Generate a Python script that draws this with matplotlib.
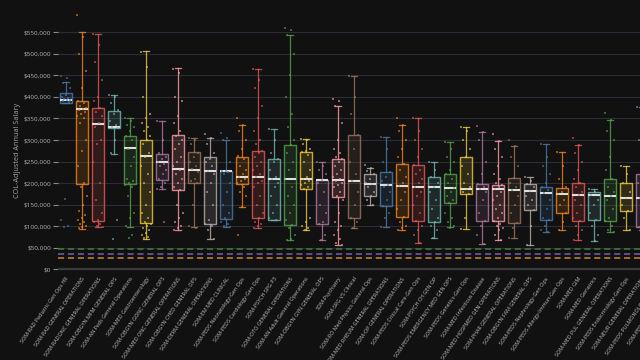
import matplotlib
matplotlib.use('Agg')
import matplotlib.pyplot as plt
import numpy as np

plt.rcParams['font.family'] = ['Open Sans', 'DejaVu Sans']

departments = ['SOM-RAD Pediatric Gen Ops HR', 'SOM-RAD GENERAL OPERATIONS', 'SOM-RADONC GENERAL OPERATIONS',
               'SOM-OBGYN MFM GENERAL OPS', 'SOM-AN Peds General Operations', 'SOM-MED Gastroenterology',
               'SOM-OBGYN GONC GENERAL OPS', 'SOM-MED ONC GENERAL OPERATIONS', 'SOM-OBGYN CHED GENERAL OPS',
               'SOM-DERM GENERAL OPERATIONS', 'SOM-EM MED CLINICAL', 'SOM-PEDS Neonatology-Gen Ops',
               'SOM-PEDS Cardiology-Gen Ops', 'SOM-PSYCH SPG P3', 'SOM-OTO GENERAL OPERATIONS',
               'SOM-AN Adult General Operations', 'SOM-OBGYN GYN GENERAL OPS', 'SOM-Psychiatry',
               'SOM-SRG VS Clinical', 'SOM-RO Med Physics General Ops', 'SOM-MED RHEUM GENERAL OPERATIONS',
               'SOM-OP GENERAL OPERATIONS', 'SOM-PEDS Critical Care-Gen Ops', 'SOM-PSYCH CH GEN OP',
               'SOM-PEDS EMERGENCY MED GEN OPS', 'SOM-PEDS Genetics-Gen Ops', 'SOM-MED Infectious Disease',
               'SOM-MED HOSPMED GEN OPERATIONS', 'SOM-PHAR GENERAL OPERATIONS', 'SOM-OBGYN FAM GENERAL OPS',
               'SOM-PEDS Nephrology-Gen Ops', 'SOM-PEDS Allergy-Immun-Gen Ops', 'SOM-MED GIM',
               'SOM-MED Geriatrics', 'SOM-MED PUL GENERAL OPERATIONS', 'SOM-PEDS Endocrinology-Gen Ops',
               'SOM-NEUR GENERAL OPERATIONS', 'SOM-PEDS PULMONOLOGY-Gen Ops', 'SOM-PEDS Hematology-Gen Ops']

# box statistics, thousands of dollars
whis_lo = [386, 93, 98, 268, 98, 70, 186, 90, 98, 70, 97, 144, 96, 115, 68, 90, 68, 56, 95, 149,
           99, 91, 62, 72, 97, 93, 59, 68, 73, 56, 87, 90, 68, 66, 87, 91, 90, 85, 80]
q1 = [387, 199, 112, 328, 199, 107, 207, 184, 201, 106, 117, 197, 120, 115, 103, 186, 105, 168, 118, 170,
      147, 122, 113, 109, 153, 174, 113, 111, 107, 138, 114, 130, 111, 114, 111, 136, 99, 120, 125]
median = [393, 371, 336, 330, 282, 264, 248, 232, 231, 227, 227, 214, 213, 210, 210, 209, 207, 207, 205, 198,
          196, 194, 190, 190, 188, 186, 186, 186, 183, 182, 177, 174, 172, 172, 171, 166, 165, 163, 160]
q3 = [408, 391, 375, 368, 309, 299, 267, 311, 272, 261, 229, 261, 275, 257, 288, 273, 207, 255, 312, 220,
      225, 244, 241, 215, 220, 260, 199, 196, 211, 197, 192, 189, 200, 179, 210, 200, 220, 195, 190]
whis_hi = [435, 550, 546, 405, 350, 506, 344, 466, 305, 305, 301, 335, 464, 325, 544, 302, 250, 380, 449, 234,
           308, 335, 350, 250, 296, 331, 318, 298, 286, 215, 290, 273, 289, 186, 347, 240, 377, 280, 270]

# individual salaries, thousands of dollars
points = [
    [448, 445, 432, 420, 405, 400, 398, 395, 393, 392, 390, 388, 163, 114, 100, 98],
    [591, 540, 500, 460, 420, 390, 385, 380, 375, 372, 370, 365, 360, 355, 350, 340, 300, 275, 240, 200,
     190, 170, 150, 135, 125, 120, 115, 110, 105, 100, 98, 95],
    [545, 520, 480, 440, 400, 390, 375, 365, 355, 340, 330, 300, 290, 250, 200, 160, 130, 115, 110, 105, 100, 98],
    [404, 400, 385, 370, 360, 345, 335, 330, 328, 300, 270, 114, 70],
    [350, 345, 335, 330, 320, 310, 300, 280, 260, 240, 210, 205, 200, 195, 190, 170, 130, 120, 100, 80, 72],
    [505, 470, 400, 360, 350, 340, 330, 320, 310, 300, 290, 270, 260, 240, 220, 200, 180, 150, 130, 120,
     110, 105, 100, 95, 90, 85, 80, 75, 72],
    [343, 300, 270, 260, 255, 250, 245, 240, 230, 220, 210, 200, 190, 186, 110],
    [465, 455, 400, 390, 355, 340, 320, 310, 300, 290, 280, 260, 250, 240, 230, 220, 210, 200, 190, 185,
     150, 130, 120, 110, 100, 95, 90],
    [305, 300, 290, 270, 260, 250, 240, 232, 225, 210, 205, 200, 150, 100, 95],
    [313, 305, 290, 270, 255, 250, 240, 228, 220, 200, 180, 150, 115, 105, 100, 90, 70],
    [316, 305, 300, 250, 229, 228, 226, 220, 200, 180, 150, 130, 118, 110, 105, 100, 97],
    [351, 335, 320, 300, 280, 262, 255, 240, 230, 220, 214, 210, 205, 200, 190, 180, 170, 145, 80],
    [464, 440, 420, 380, 350, 320, 300, 290, 275, 270, 260, 250, 240, 230, 220, 213, 205, 200, 190, 170,
     150, 130, 120, 110, 105, 100, 96],
    [325, 300, 270, 257, 250, 230, 215, 210, 200, 190, 170, 150, 130, 120, 115],
    [560, 555, 544, 500, 450, 400, 360, 330, 300, 288, 270, 250, 230, 210, 190, 170, 150, 130, 115, 103,
     95, 80, 70, 68],
    [302, 300, 290, 280, 275, 273, 265, 250, 230, 215, 209, 205, 200, 195, 190, 186, 120, 110, 100, 95, 90],
    [250, 240, 230, 220, 207, 200, 180, 150, 130, 110, 105, 80, 68],
    [396, 390, 380, 340, 300, 280, 270, 260, 255, 250, 240, 230, 220, 215, 210, 205, 200, 195, 190, 180,
     170, 160, 130, 110, 100, 90, 80, 70, 60, 56],
    [448, 400, 360, 311, 280, 250, 220, 205, 180, 150, 120, 110, 95],
    [242, 234, 228, 220, 210, 200, 198, 190, 180, 170, 160, 148],
    [308, 280, 250, 225, 215, 205, 196, 190, 180, 160, 147, 130, 120, 99],
    [350, 335, 320, 300, 280, 260, 244, 230, 215, 200, 194, 180, 160, 140, 122, 110, 100, 95, 91],
    [350, 320, 300, 280, 260, 241, 230, 220, 210, 200, 190, 180, 170, 150, 130, 113, 100, 90, 80, 62],
    [250, 230, 215, 200, 190, 180, 160, 140, 120, 109, 100, 90, 72],
    [296, 280, 260, 250, 230, 220, 210, 200, 188, 180, 170, 160, 153, 130, 120, 110, 100, 96],
    [331, 320, 300, 280, 260, 240, 220, 200, 190, 186, 180, 174, 120, 93],
    [333, 318, 300, 250, 220, 199, 190, 186, 180, 160, 130, 113, 100, 80, 59],
    [314, 298, 280, 260, 240, 220, 210, 200, 196, 190, 186, 180, 170, 160, 150, 140, 130, 120, 111, 105,
     100, 95, 90, 80, 68],
    [300, 286, 260, 240, 211, 200, 190, 183, 170, 150, 130, 107, 95, 73],
    [215, 205, 197, 190, 182, 170, 160, 150, 138, 100, 56],
    [290, 260, 240, 220, 200, 192, 185, 177, 160, 140, 120, 114, 100, 90, 87],
    [273, 240, 210, 190, 180, 174, 160, 150, 130, 110, 90],
    [305, 288, 270, 250, 230, 210, 200, 190, 180, 172, 160, 150, 130, 120, 111, 100, 90, 80, 68],
    [186, 180, 172, 160, 150, 130, 115, 100, 80, 66],
    [362, 346, 320, 300, 260, 230, 210, 190, 180, 171, 160, 140, 120, 111, 100, 90, 87],
    [240, 220, 200, 180, 166, 150, 136, 120, 91],
    [377, 340, 300, 260, 220, 200, 180, 165, 150, 120, 99, 90],
    [280, 250, 200, 180, 163, 150, 120, 85],
    [270, 240, 200, 180, 160, 140, 125, 80],
]

# reference lines
ref_levels = [46.4, 34.8, 25.5]
ref_colors = ['#3f7f35', '#7b5cb8', '#c9882e']

palette = ['#4C78A8', '#F58518', '#E45756', '#72B7B2', '#54A24B',
           '#EECA3B', '#B279A2', '#FF9DA6', '#9D755D', '#BAB0AC']

bg = '#111111'
fig = plt.figure(figsize=(6.4, 3.6), dpi=100, facecolor=bg)
n = len(departments)
ax = fig.add_axes([58/640, 0.2425, n*16/640, 0.7336], facecolor=bg)

stats = []
for i in range(n):
    stats.append({'med': median[i]*1000, 'q1': q1[i]*1000, 'q3': q3[i]*1000,
                  'whislo': whis_lo[i]*1000, 'whishi': whis_hi[i]*1000, 'fliers': []})

bp = ax.bxp(stats, positions=range(n), widths=0.72, patch_artist=True, showfliers=False,
            capwidths=0.32, manage_ticks=False, zorder=3)

for i in range(n):
    c = palette[i % len(palette)]
    edge = matplotlib.colors.to_rgba(c, 0.82)
    bp['boxes'][i].set_facecolor(matplotlib.colors.to_rgba(c, 0.15))
    bp['boxes'][i].set_edgecolor(edge)
    bp['boxes'][i].set_linewidth(1.0)
    bp['medians'][i].set_color('#dedede')
    bp['medians'][i].set_linewidth(1.5)
    for w in bp['whiskers'][2*i:2*i+2]:
        w.set_color(edge)
        w.set_linewidth(0.9)
    for cp in bp['caps'][2*i:2*i+2]:
        cp.set_color(edge)
        cp.set_linewidth(0.9)

    vals = np.array(points[i]) * 1000
    k = np.arange(len(vals))
    jitter = ((k * 0.6180339) % 1.0 - 0.5) * 0.62
    ax.scatter(i + jitter, vals, s=1.5, marker='s', color=c, alpha=0.6, linewidths=0, zorder=4)

for lvl, c in zip(ref_levels, ref_colors):
    ax.axhline(lvl*1000, color=c, lw=1.1, ls=(0, (4, 2.5)), zorder=2)

ax.axhline(0, color='#3a3a3a', lw=1.6, zorder=1)

ax.set_xlim(-0.5, n - 0.5)
ax.set_ylim(-8000, 605000)
yt = np.arange(0, 550001, 50000)
ax.set_yticks(yt)
ax.set_yticklabels(['${:,.0f}'.format(v) for v in yt], fontsize=4.6, color='#b5b5b5')
ax.grid(axis='y', color='#2a2d33', lw=0.8, zorder=0)
ax.set_axisbelow(True)
ax.tick_params(axis='y', length=3.5, width=0.8, color='#8a8a8a', pad=1.5)

ax.set_xticks(range(n))
ax.set_xticklabels(departments, rotation=55, ha='right', rotation_mode='anchor',
                   fontsize=3.9, color='#c2c2c2')
ax.tick_params(axis='x', length=0, pad=2.5)

for sp in ax.spines.values():
    sp.set_visible(False)

fig.text(18/640, 0.583, 'COL-Adjusted Annual Salary', rotation=90, ha='center', va='center',
         fontsize=5.2, color='#a5a5a5')

fig.savefig('out.png', dpi=100, facecolor=bg)
